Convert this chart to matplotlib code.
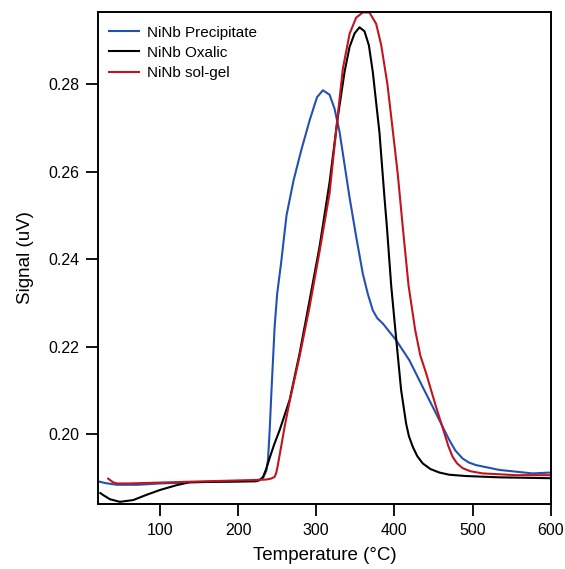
import numpy as np
import matplotlib
matplotlib.use("Agg")
import matplotlib.pyplot as plt

plt.rcParams['font.family'] = ['Liberation Sans', 'DejaVu Sans']

# values
temp_prec = [23, 30, 45, 72, 100, 150, 200, 225, 232, 236, 238.3, 240.5, 242.6, 246.8, 250,
             255, 262, 271, 281, 292, 301, 308.5, 317, 323.4, 329.8, 334, 342.5, 351.1,
             359.5, 366, 372.3, 378, 385, 402, 419, 436, 453.2, 470.2, 478, 487.2, 495,
             504.3, 534, 576.5, 600]
sig_prec = [0.1891, 0.1888, 0.1884, 0.1884, 0.1887, 0.1890, 0.1892, 0.1893, 0.1900, 0.1915,
            0.1940, 0.2010, 0.2093, 0.2245, 0.2320, 0.2390, 0.2500, 0.2580, 0.2650, 0.2720,
            0.2770, 0.2786, 0.2776, 0.2744, 0.2691, 0.2642, 0.2542, 0.2451, 0.2367, 0.2320,
            0.2283, 0.2265, 0.2253, 0.2215, 0.2169, 0.2108, 0.2047, 0.1986, 0.1962, 0.1944,
            0.1935, 0.1929, 0.1918, 0.1910, 0.1912]

temp_oxal = [24, 28, 36.2, 48.9, 65.9, 83, 100, 121.3, 138.3, 180, 223, 228, 232, 236, 240.4,
             246, 253.2, 266, 278.7, 291.5, 304.2, 317, 327.6, 336.2, 342.6, 349, 355.3,
             361.7, 367.3, 372.3, 376.6, 380.8, 387.2, 390.5, 395.8, 402.1, 408.5, 414.9,
             418.5, 423.4, 429, 436.1, 446, 457.4, 470, 491.5, 534, 600]
sig_oxal = [0.1865, 0.1860, 0.1851, 0.1845, 0.1849, 0.1861, 0.1872, 0.1883, 0.1890, 0.1891,
            0.1892, 0.1895, 0.1902, 0.1920, 0.1945, 0.1975, 0.2009, 0.2078, 0.2184, 0.2306,
            0.2428, 0.2575, 0.2725, 0.2828, 0.2885, 0.2916, 0.2930, 0.2921, 0.2889, 0.2828,
            0.2758, 0.2690, 0.2542, 0.2470, 0.2340, 0.2220, 0.2101, 0.2024, 0.1995, 0.1971,
            0.1950, 0.1933, 0.1920, 0.1912, 0.1907, 0.1904, 0.1901, 0.1899]

temp_sol = [34, 40, 45, 60, 100, 138, 180, 223, 236, 242, 246.8, 249, 251, 253, 256, 259.6,
            266, 279, 291.5, 304, 317, 325.5, 334, 342.6, 351, 359.5, 368, 376.6, 383, 391,
            397.5, 404.2, 410.6, 418, 426.5, 433, 440.5, 453.2, 463.8, 469, 474.4,
            480, 487.2, 497, 512.7, 555.3, 600]
sig_sol = [0.1898, 0.1890, 0.1887, 0.1887, 0.1889, 0.1891, 0.1893, 0.1895, 0.1896, 0.1898,
           0.1902, 0.1912, 0.1930, 0.1950, 0.1980, 0.2017, 0.2075, 0.2180, 0.2291, 0.2415,
           0.2550, 0.2695, 0.2835, 0.2915, 0.2952, 0.2964, 0.2964, 0.2938, 0.2890, 0.2800,
           0.2700, 0.2595, 0.2474, 0.2340, 0.2238, 0.2180, 0.2139, 0.2062, 0.2002,
           0.1972, 0.1948, 0.1933, 0.1922, 0.1915, 0.1910, 0.1906, 0.1906]

fig = plt.figure(figsize=(5.65, 5.69), dpi=100)
ax = fig.add_axes([0.1735, 0.1142, 0.8015, 0.8647])

ax.plot(temp_prec, sig_prec, color='#2350b4', lw=1.5, label='NiNb Precipitate')
ax.plot(temp_oxal, sig_oxal, color='black', lw=1.5, label='NiNb Oxalic')
ax.plot(temp_sol, sig_sol, color='#c0151f', lw=1.5, label='NiNb sol-gel')

ax.set_xlim(21, 600)
ax.set_ylim(0.184, 0.2965)
ax.set_xticks([100, 200, 300, 400, 500, 600])
ax.set_yticks([0.20, 0.22, 0.24, 0.26, 0.28])
ax.set_yticklabels(['0.20', '0.22', '0.24', '0.26', '0.28'])

for s in ax.spines.values():
    s.set_linewidth(1.4)
ax.tick_params(direction='out', length=8.5, width=1.3, labelsize=11.5, pad=5, colors='black')

ax.set_xlabel('Temperature (°C)', fontsize=13.5, labelpad=7)
ax.set_ylabel('Signal (uV)', fontsize=13.5, labelpad=10)

ax.legend(loc='upper left', frameon=False, fontsize=11, handlelength=2.0,
          handletextpad=0.5, labelspacing=0.4, borderaxespad=0.3,
          bbox_to_anchor=(0.0, 0.994))

fig.savefig('out.png', dpi=100)
